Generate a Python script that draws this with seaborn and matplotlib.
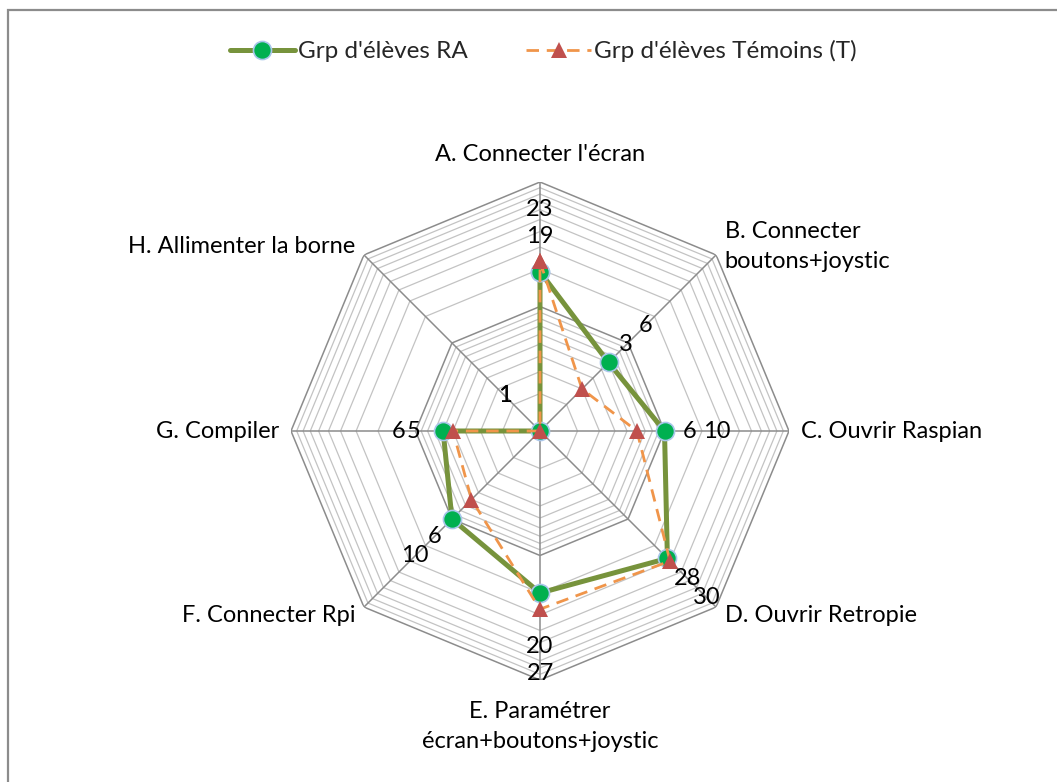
import numpy as np
import pandas as pd
import matplotlib
matplotlib.use("Agg")
import matplotlib.pyplot as plt
from matplotlib.patches import Rectangle
import seaborn as sns

categories = ["A. Connecter l'écran", "B. Connecter\nboutons+joystic", "C. Ouvrir Raspian",
              "D. Ouvrir Retropie", "E. Paramétrer\nécran+boutons+joystic", "F. Connecter Rpi",
              "G. Compiler", "H. Allimenter la borne"]
ra_values = [19, 6, 10, 28, 20, 10, 6, 1]
t_values = [23, 3, 6, 30, 27, 6, 5, 1]
series_names = ["Grp d'élèves RA", "Grp d'élèves Témoins (T)"]
minor_rings = [2, 3, 4, 5, 6, 7, 8, 9, 20, 30, 40, 50, 60, 70, 80, 90]
major_rings = [10, 100]

sns.set_theme(style="white")
plt.rcParams['font.family'] = ['Lato', 'DejaVu Sans']
FS = 17

W, H = 1057, 782
fig = plt.figure(figsize=(W / 100, H / 100), dpi=100)
cx, cy, R = 540, 431, 249
ax = fig.add_axes([(cx - R) / W, (H - cy - R) / H, 2 * R / W, 2 * R / H], projection='polar')
ax.set_theta_zero_location('N')
ax.set_theta_direction(-1)
ax.set_rscale('log')
ax.set_rlim(1, 100)
ax.grid(False)
ax.set_xticks([])
ax.set_yticks([])
ax.set_yticks([], minor=True)
ax.spines['polar'].set_visible(False)
ax.patch.set_alpha(0)

n = len(categories)
theta = np.arange(n) * 2 * np.pi / n
theta_closed = np.append(theta, 2 * np.pi)

# polygon grid
for v in minor_rings:
    ax.plot(theta_closed, [v] * (n + 1), color='#C3C3C3', lw=0.9, zorder=1)
for v in major_rings:
    ax.plot(theta_closed, [v] * (n + 1), color='#8C8C8C', lw=1.1, zorder=1.5)
for t in theta:
    ax.plot([t, t], [1, 100], color='#8C8C8C', lw=1.1, zorder=1.5)

df_ra = pd.DataFrame({'theta': theta_closed, 'r': ra_values + ra_values[:1]})
df_t = pd.DataFrame({'theta': theta_closed, 'r': t_values + t_values[:1]})

sns.lineplot(data=df_ra, x='theta', y='r', ax=ax, sort=False, estimator=None,
             color='#77933C', lw=3.6, marker='o', markersize=13,
             markerfacecolor='#00B050', markeredgecolor='#A9C6EA', markeredgewidth=1.2,
             zorder=3, label=series_names[0], legend=False)
sns.lineplot(data=df_t, x='theta', y='r', ax=ax, sort=False, estimator=None,
             color='#F0954A', lw=2.0, linestyle=(0, (4.5, 2.8)), marker='^', markersize=12,
             markerfacecolor='#C0504D', markeredgecolor='#C0504D', markeredgewidth=0,
             zorder=4, label=series_names[1], legend=False)
ax.set_xlabel('')
ax.set_ylabel('')
ax.set_rlim(1, 100)

px = 0.72  # points per pixel
# data labels
for i, t in enumerate(theta):
    vals = [ra_values[i], t_values[i]]
    rmax = max(vals)
    s, c = np.sin(t), np.cos(t)
    extra = 12 if c < -0.9 else 0
    for v in vals:
        if vals[0] == vals[1]:
            d = 50
        else:
            d = 25 if v == min(vals) else 52
        if s < -0.9 and vals[0] != vals[1]:
            d = 30 if v == min(vals) else 44
        d += extra
        ax.annotate(str(v), xy=(t, rmax), xytext=(s * d * px, c * d * px),
                    textcoords='offset points', ha='center', va='center',
                    fontsize=FS, color='black', zorder=6)

# category labels
for i, t in enumerate(theta):
    s, c = np.sin(t), np.cos(t)
    ha = 'center' if abs(s) < 0.1 else ('left' if s > 0 else 'right')
    if c > 0.9:
        va, d = 'bottom', 17
    elif c < -0.9:
        va, d = 'top', 21
    else:
        va, d = 'center', 12
    ax.annotate(categories[i], xy=(t, 100), xytext=(s * d * px, c * d * px),
                textcoords='offset points', ha=ha, va=va, fontsize=FS,
                color='black', linespacing=1.5, annotation_clip=False)

handles = ax.get_lines()[-2:]
fig.legend(handles=handles, labels=series_names, loc='center',
           bbox_to_anchor=(543 / W, 1 - 51 / H), ncol=2, frameon=False,
           fontsize=17.5, handlelength=2.7, handletextpad=0.1, columnspacing=2.4,
           numpoints=1)

fig.add_artist(Rectangle((8 / W, -0.05), 1.1, 1 - 10 / H + 0.05, transform=fig.transFigure,
                         fill=False, edgecolor='#8C8C8C', lw=1.6))

fig.savefig('out.png', dpi=100, facecolor='white')
